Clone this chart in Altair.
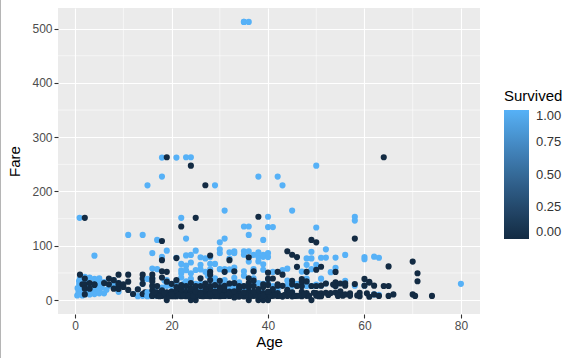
import altair as alt
import pandas as pd

# ---- data: [age, fare] ----
died_children = [
    [1, 46.9], [1.5, 29], [2, 39.7], [2, 29], [2, 21], [2, 10.5], [2, 151.55], [3, 31.3], [3, 21],
    [4, 29.1], [4, 27.9], [6, 31.3], [7, 39.7], [7, 29], [8, 36.75], [8, 21.07], [9, 46.9],
    [9, 31.27], [9, 27.9], [9, 20.5], [10, 24.15], [10, 29], [11, 46.9], [11, 34], [11, 18.8],
    [12, 11.2], [13, 20], [14, 46.9], [14, 39.7], [14, 30], [14, 11.2], [14.5, 14.45], [15, 8.03],
]
died_adults = [
    [16, 7.75], [16, 9.2], [16, 18], [16, 26], [16, 8.05], [16, 46.9], [16, 39.7], [16, 34.4],
    [17, 7.9], [17, 14.5], [17, 8.66], [17, 26],
    [18, 7.8], [18, 11.5], [18, 14.45], [18, 8.05], [18, 18], [18, 108.9], [18, 73.5], [18, 53.1], [18, 41.6],
    [19, 0], [19, 7.9], [19, 8.05], [19, 10.5], [19, 14.5], [19, 6.75], [19, 263], [19, 52], [19, 34],
    [20, 7.05], [20, 7.85], [20, 9.2], [20, 8.05], [20, 9.8], [20, 15.5],
    [21, 7.8], [21, 8.05], [21, 11.5], [21, 7.25], [21, 16.1], [21, 24], [21, 77.3], [21, 36.75],
    [22, 7.25], [22, 7.9], [22, 9], [22, 10.5], [22, 8.05], [22, 13], [22, 7.5], [22, 135.6],
    [23, 7.9], [23, 13], [23, 15], [23, 10.5], [23, 9.2], [23, 7.05],
    [24, 0], [24, 8.05], [24, 13], [24, 7.5], [24, 16.1], [24, 7.8], [24, 9.5], [24, 247.5],
    [25, 0], [25, 7.05], [25, 7.9], [25, 13], [25, 26], [25, 17.8], [25, 7.25], [25, 8.05], [25, 151.55],
    [26, 7.9], [26, 14.45], [26, 8.66], [26, 26], [26, 7.75],
    [27, 7.8], [27, 10.5], [27, 8.66], [27, 13], [27, 7.9], [27, 211.5],
    [28, 7.9], [28, 13], [28, 22.5], [28, 7.25], [28, 9.5], [28, 15.5], [28, 26], [28, 82.2], [28, 52], [28, 46.9], [28, 37],
    [29, 7.75], [29, 9.5], [29, 13], [29, 27.7], [29, 7.9], [29, 8.05],
    [30, 7.8], [30, 13], [30, 16.1], [30, 8.05], [30, 24.15], [30, 7.25], [30, 9.5],
    [31, 7.75], [31, 10.5], [31, 13], [31, 18], [31, 8.05], [31, 52],
    [32, 7.9], [32, 8.05], [32, 15.85], [32, 30.5], [32, 7.75], [32, 73.5],
    [33, 7.9], [33, 9.5], [33, 12.3], [33, 8.66], [33, 5], [33, 53.1],
    [34, 8.05], [34, 13], [34, 26], [34, 6.5], [34, 10.5],
    [35, 8.05], [35, 7.05], [35, 26], [35, 7.12], [35, 10.5],
    [36, 0], [36, 7.5], [36, 15.55], [36, 12.9], [36, 24.15], [36, 78.85], [36, 40.1],
    [37, 7.9], [37, 26], [37, 9.6], [37, 53.1],
    [38, 0], [38, 7.9], [38, 8.66], [38, 13], [38, 153.5],
    [39, 0], [39, 7.9], [39, 13], [39, 29.1], [39, 24.15],
    [40, 0], [40, 7.9], [40, 9.5], [40, 27.9], [40, 39], [40, 50.5],
    [41, 7.85], [41, 14.1], [41, 20.2], [41, 39.7],
    [42, 7.55], [42, 8.4], [42, 13], [42, 26.5], [42, 52],
    [43, 6.45], [43, 8.05], [43, 26.25], [43, 46.9],
    [44, 8.05], [44, 16.1], [44, 7.9], [44, 19], [44, 90],
    [45, 6.98], [45, 8.05], [45, 14.45], [45, 35.5], [45, 83.5],
    [46, 26], [46, 61.2], [46, 79.2], [46, 7.9],
    [47, 9], [47, 15], [47, 38.5], [47, 25.6], [47, 7.2], [47, 34],
    [48, 7.85], [48, 13], [48, 34.4], [48, 52],
    [49, 0], [49, 26], [49, 110.9],
    [50, 13], [50, 8.05], [50, 26], [50, 106.4], [50, 55.9],
    [51, 8.05], [51, 12.5], [51, 26.55], [51, 61.4], [51, 7.05],
    [52, 13.5], [52, 30.5],
    [53, 13],
    [54, 14], [54, 26], [54, 51.9], [54, 32.5],
    [55, 16], [55, 30.5], [55.5, 8.05],
    [56, 10.5], [56, 26.55], [56, 30.7],
    [57, 12.35], [58, 29.7], [58, 113.3],
    [59, 7.25], [59, 13.5], [60, 39], [60, 26.55],
    [61, 6.24], [61, 32.3], [61, 33.5], [62, 10.5], [62, 26.55],
    [64, 26], [64, 263], [65, 7.75], [65, 26], [65, 61.98], [66, 10.5],
    [70, 10.5], [70, 71], [70.5, 7.75], [71, 34.65], [71, 49.5], [74, 7.775],
]
died_band = [
    [16.5, 14.5], [17.5, 7.2], [18.5, 13], [19.5, 7.75], [20.5, 7.25], [20, 11.2], [21.5, 9.5],
    [22.5, 7.8], [22, 20.5], [23.5, 8.05], [23, 26], [24.5, 7.9], [24, 21], [25.5, 10.5], [25, 15.2],
    [26.5, 7.25], [26, 11.5], [27.5, 7.75], [27, 21], [28.5, 8.05], [28, 10.5], [29.5, 7.9], [29, 15.5],
    [30.5, 7.75], [30, 20.5], [31.5, 9.2], [31, 26.3], [32.5, 13], [32, 11.5], [33.5, 7.05],
    [33, 16.1], [34.5, 8.05], [34, 21], [35.5, 9.5], [35, 14.5], [36.5, 7.9], [36, 31.4],
    [37.5, 8.05], [37, 15.25], [38.5, 7.25], [38, 20.5], [39.5, 10.5], [39, 8.05], [40.5, 7.75],
    [40, 15.5], [41.5, 8.66], [42.5, 7.9], [43.5, 9.5], [44.5, 13], [45.5, 7.75], [46.5, 8.05],
    [47.5, 10.5], [48.5, 7.9], [49.5, 13.5], [50.5, 7.25], [52.5, 9.5], [53.5, 28.5], [54.5, 7.75],
    [57, 7.9], [58.5, 8.66], [60.5, 12.5], [63, 7.75], [24, 31.4], [27, 30.5], [30, 35.5],
    [33, 31.3], [37, 36], [42, 29], [45, 29.1], [20, 30], [22, 27.7], [26, 40.1],
]
survived_children = [
    [0.42, 8.5], [0.67, 14.5], [0.75, 19.3], [0.83, 29], [0.83, 18.75], [0.92, 151.55],
    [1, 11.1], [1, 15.7], [1, 37], [1, 39.7], [1, 20.6], [1, 12.2], [2, 26], [2, 23],
    [3, 26], [3, 18.75], [3, 41.6], [3, 15.9], [3, 13.8], [4, 16.7], [4, 11.1], [4, 22],
    [4, 81.9], [4, 29.1], [4, 23], [4, 39], [5, 19.3], [5, 27.75], [5, 12.5], [5, 31.4],
    [6, 33], [6, 12.5], [7, 26.25], [8, 26.25], [8, 36.75], [8, 32], [9, 31.4], [9, 15.2],
    [11, 120], [12, 11.2], [13, 19.5], [13, 7.2], [14, 120], [14, 30], [14, 11.2], [14, 7.85],
    [0.5, 22], [1.5, 33], [2.5, 18], [2.5, 36], [3.5, 27], [4.5, 35], [5.5, 23], [6.5, 19],
    [1.5, 8.5], [3, 10.5], [0.8, 35], [2, 43], [5, 40],
]
survived_adults = [
    [15, 211.3], [15, 7.2], [15, 14.45], [15, 8.03], [15, 39],
    [16, 86.5], [16, 57.98], [16, 39.4], [16, 26], [16, 7.73],
    [17, 110.9], [17, 57], [17, 7.9], [17, 10.5], [17, 12],
    [18, 227.5], [18, 262.4], [18, 79.65], [18, 13], [18, 9.8], [18, 17.8], [18, 23],
    [19, 91], [19, 30], [19, 26.3], [19, 7.9], [19, 10.5], [19, 36.75],
    [20, 9.8], [20, 15.7], [20, 7.9],
    [21, 262.4], [21, 77.96], [21, 34.4], [21, 10.5], [21, 7.65],
    [22, 151.55], [22, 66.6], [22, 49.5], [22, 55], [22, 10.5], [22, 7.75], [22, 41.6], [22, 13],
    [23, 263], [23, 113.3], [23, 82.3], [23, 63.4], [23, 13.8], [23, 7.55], [23, 34.4],
    [24, 263], [24, 69.3], [24, 83.2], [24, 49.5], [24, 13], [24, 19.5], [24, 27.7], [24, 16.7],
    [25, 91.1], [25, 55.4], [25, 26], [25, 30], [25, 7.75], [25, 13],
    [26, 78.85], [26, 7.9], [26, 56.5], [26, 30], [26, 16.1],
    [27, 30.5], [27, 52], [27, 76.7], [27, 10.5], [27, 13], [27, 21],
    [28, 12.65], [28, 26], [28, 7.8], [28, 56.5], [28, 79.2],
    [29, 211.3], [29, 66.6], [29, 26], [29, 9.5], [29, 7.75], [29, 30],
    [30, 106.4], [30, 93.5], [30, 56.9], [30, 86.5], [30, 12.5], [30, 31], [30, 13], [30, 8.66],
    [31, 164.9], [31, 113.3], [31, 57], [31, 52], [31, 18], [31, 20.5], [31, 7.9],
    [32, 76.3], [32, 30.5], [32, 56.5], [32, 7.8], [32, 13], [32, 26], [32, 88],
    [33, 86.5], [33, 53.1], [33, 27.7], [33, 90], [33, 20.5],
    [34, 26], [34, 23], [34, 10.5], [34, 32.5],
    [35, 512.33], [35, 512.33], [35, 135.6], [35, 90], [35, 53.1], [35, 83.5], [35, 26], [35, 21],
    [36, 512.33], [36, 135.6], [36, 120], [36, 26.3], [36, 71], [36, 90], [36, 13], [36, 17.4],
    [37, 52.55], [37, 29.7], [37, 83.2],
    [38, 227.5], [38, 80], [38, 71.3], [38, 7.23], [38, 31.4], [38, 88],
    [39, 110.9], [39, 83.2], [39, 55.9], [39, 79.6], [39, 7.9], [39, 13],
    [40, 153.5], [40, 134.5], [40, 79.2], [40, 39], [40, 9.5], [40, 31], [40, 86.5],
    [41, 134.5], [41, 51.9], [41, 20.2],
    [42, 227.5], [42, 26], [42, 13],
    [43, 211.3], [43, 55.4],
    [44, 57.9], [44, 16.1], [44, 27.7],
    [45, 164.9], [45, 14.1], [45, 26.55],
    [47, 52.55], [47, 27.5],
    [48, 76.7], [48, 65], [48, 39.6], [48, 52], [48, 25.9], [48, 34.4],
    [49, 89.1], [49, 76.7], [49, 56.9], [49, 26], [49, 25.9],
    [50, 247.5], [50, 133.65], [50, 26], [50, 65], [50, 28.7],
    [51, 77.96], [51, 39.4], [51, 26.55],
    [52, 93.5], [52, 78.3], [52, 30.5],
    [53, 51.5], [54, 78.3], [54, 59.4], [54, 26],
    [56, 83.2], [56, 35.5],
    [58, 153.46], [58, 146.5], [58, 26.55],
    [60, 79.2], [60, 75.25], [60, 26.55],
    [62, 80], [62, 10.5], [63, 77.96], [63, 9.6],
    [80, 30],
    [16.5, 19], [18.5, 36], [21, 25], [22.5, 30], [24, 39], [26, 23], [27.5, 45], [29, 40],
    [31, 37], [33, 41], [35, 45], [37, 40], [39, 30], [41, 26], [44, 36], [46, 30],
    [20, 26], [23, 21], [26, 12], [29, 17], [32, 20], [35, 12], [38, 17], [42, 21],
    [23, 55], [26, 65], [28, 67], [33, 60], [37, 57], [39, 66],
]

age_ticks = [0, 20, 40, 60, 80]
fare_ticks = [0, 100, 200, 300, 400, 500]
age_minor = [10, 30, 50, 70]
fare_minor = [50, 150, 250, 350, 450]

rows = []
for group, s in [(survived_children, 1), (died_children, 0), (survived_adults, 1),
                 (died_adults, 0), (died_band, 0)]:
    for a, f in group:
        rows.append({"Age": a, "Fare": f, "Survived": s})
df = pd.DataFrame(rows)

FONT = "Liberation Sans"
x_scale = alt.Scale(domain=[-3.56, 83.96], nice=False, zero=False)
y_scale = alt.Scale(domain=[-25.6, 537.9], nice=False, zero=False)

x_axis = alt.Axis(values=age_ticks, grid=True, gridColor="white", gridWidth=1.1,
                  domain=False, tickColor="#333333", tickSize=4, tickWidth=1.1,
                  labelColor="#4D4D4D", labelFontSize=12, labelPadding=2, labelFont=FONT,
                  titleFont=FONT, titleFontSize=15, titleFontWeight="normal", titleColor="black",
                  titlePadding=3)
y_axis = alt.Axis(values=fare_ticks, grid=True, gridColor="white", gridWidth=1.1,
                  domain=False, tickColor="#333333", tickSize=4, tickWidth=1.1,
                  labelColor="#4D4D4D", labelFontSize=12, labelPadding=2, labelFont=FONT,
                  titleFont=FONT, titleFontSize=15, titleFontWeight="normal", titleColor="black",
                  titlePadding=9)

vminor = alt.Chart(pd.DataFrame({"Age": age_minor})).mark_rule(color="white", strokeWidth=0.55).encode(
    x=alt.X("Age:Q", scale=x_scale, axis=x_axis, title="Age"))
hminor = alt.Chart(pd.DataFrame({"Fare": fare_minor})).mark_rule(color="white", strokeWidth=0.55).encode(
    y=alt.Y("Fare:Q", scale=y_scale, axis=y_axis, title="Fare"))

border = alt.Chart(pd.DataFrame({"b": [0]})).mark_rule(color="#B5B5B5", strokeWidth=1, clip=False).encode(
    x=alt.value(-57.5), y=alt.value(-8), y2=alt.value(350))

points = alt.Chart(df).mark_circle(size=38, opacity=1).encode(
    x=alt.X("Age:Q", scale=x_scale, axis=x_axis, title="Age"),
    y=alt.Y("Fare:Q", scale=y_scale, axis=y_axis, title="Fare"),
    color=alt.Color("Survived:Q",
                    scale=alt.Scale(domain=[0, 1], range=["#132B43", "#56B1F7"]),
                    legend=alt.Legend(title="Survived", orient="none", legendX=446, legendY=81,
                                      direction="vertical", gradientLength=129, gradientThickness=25,
                                      values=[0, 0.25, 0.5, 0.75, 1], format=".2f",
                                      labelFontSize=13, labelFont=FONT, labelColor="#333333",
                                      labelOffset=7, labelBaseline="middle",
                                      titleFontSize=15, titleFont=FONT, titleFontWeight="normal",
                                      titleColor="black", titlePadding=6,
                                      gradientStrokeWidth=0)),
)

chart = (vminor + hminor + border + points).properties(
    width=422, height=306,
    padding={"left": 58, "top": 8, "right": 100, "bottom": 44},
    autosize=alt.AutoSizeParams(type="none"),
    background="white",
).configure_view(fill="#EBEBEB", stroke=None)

chart.save("out.html", embed_options={"renderer": "svg", "actions": False})
